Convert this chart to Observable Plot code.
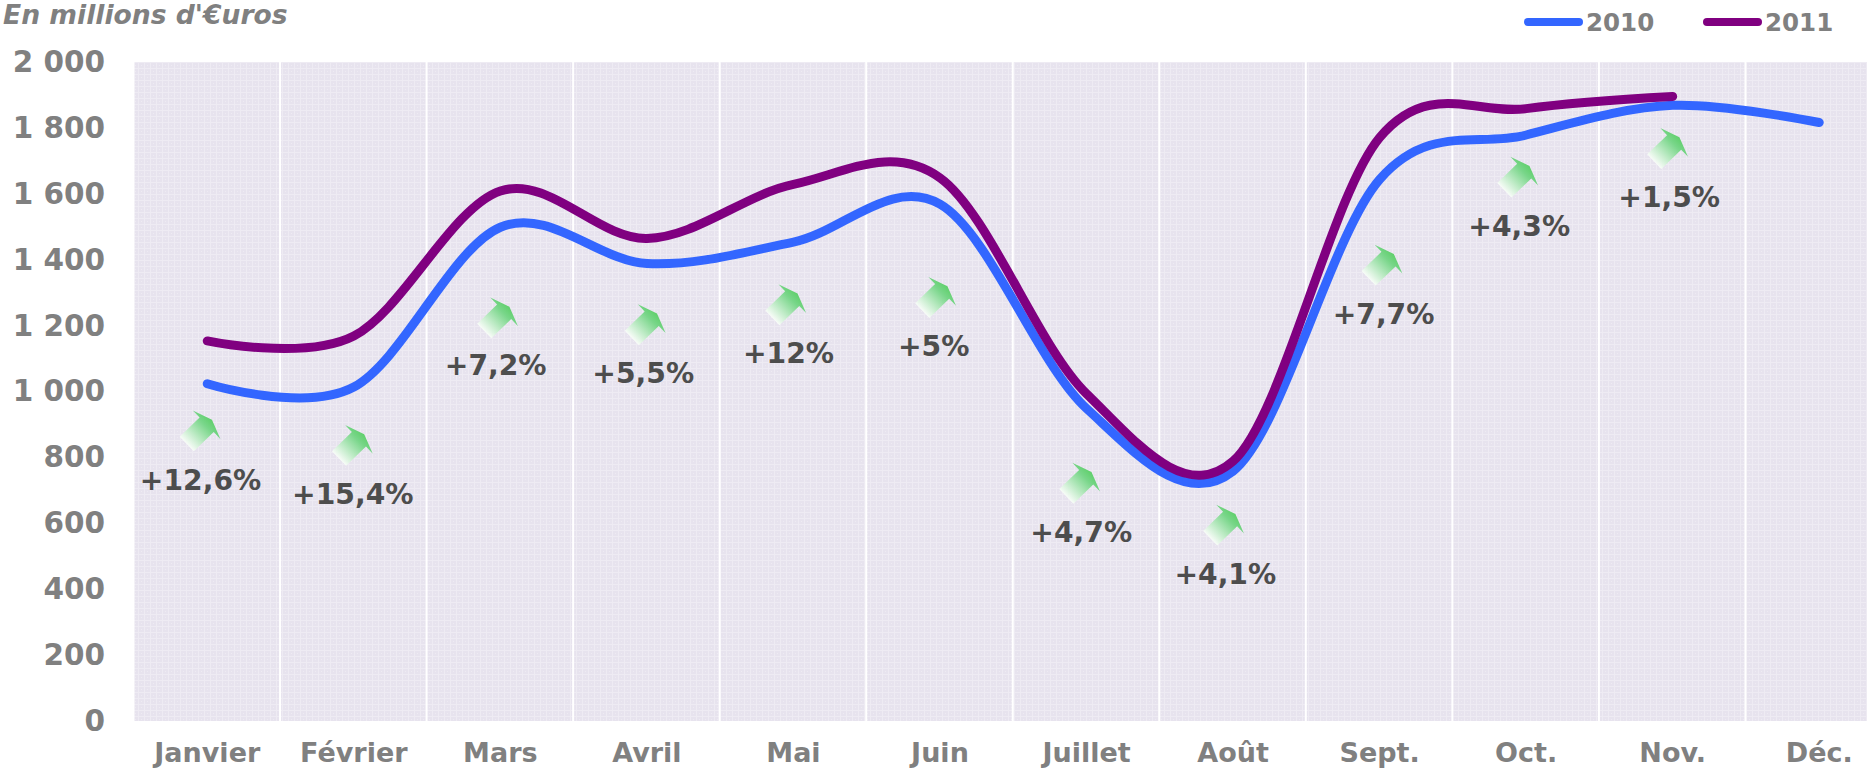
<!DOCTYPE html>
<html><head><meta charset="utf-8">
<script src="https://cdn.jsdelivr.net/npm/d3@7"></script>
<script src="https://cdn.jsdelivr.net/npm/@observablehq/plot@0.6"></script>
<style>
html,body{margin:0;padding:0;background:#fff;overflow:hidden;width:1867px;height:768px;font-family:"DejaVu Sans",sans-serif;font-weight:bold;color:#808080}
#head{position:relative;height:44px;width:1867px}
#head .t{position:absolute;left:3px;top:3px;font-size:26.6px;font-style:italic;line-height:24px;white-space:nowrap}
#head .k{position:absolute;top:22px;height:8px;width:59px;margin-top:-4px;border-radius:4px}
#head .l{position:absolute;top:7px;font-size:24.5px;line-height:32px}
</style></head><body>
<div id="head"></div>
<div id="chart"></div>
<script>
const months = ["Janvier","Février","Mars","Avril","Mai","Juin","Juillet","Août","Sept.","Oct.","Nov.","Déc."];
const values2010 = [1025,1015,1500,1390,1455,1570,950,760,1645,1780,1870,1818];
const values2011 = [1155,1170,1610,1466,1630,1650,995,790,1772,1860,1897];
const yTicks = [0,200,400,600,800,1000,1200,1400,1600,1800,2000];
const pctLabels = ["+12,6%","+15,4%","+7,2%","+5,5%","+12%","+5%","+4,7%","+4,1%","+7,7%","+4,3%","+1,5%"];
const labelX = [.454,1.493,2.468,3.475,4.466,5.457,6.464,7.447,8.527,9.453,10.476];
const labelY = [731,687,1078,1056,1114,1136,571,445,1233,1501,1588];
const arrowX = [.446,1.485,2.476,3.483,4.442,5.465,6.448,7.430,8.511,9.437,10.460];
const arrowY = [879,835,1222,1201,1262,1284,720,593,1382,1649,1736];
const seriesColors = {"2010":"#3366ff","2011":"#800080"};

const head = d3.select("#head");
head.append("div").attr("class","t").text("En millions d'€uros");
[["2010",1524,1586],["2011",1703,1765]].forEach(([n,a,b])=>{
  head.append("div").attr("class","k").style("left",a+"px").style("background",seriesColors[n]);
  head.append("div").attr("class","l").style("left",b+"px").text(n);
});

const bands = months.map((m,i)=>({a:i,b:i+1}));
const line2010 = values2010.map((v,i)=>({x:i+.5,y:v}));
const line2011 = values2011.map((v,i)=>({x:i+.5,y:v}));
const arrows = arrowX.map((x,i)=>({x,y:arrowY[i]}));
const labels = pctLabels.map((t,i)=>({t,x:labelX[i],y:labelY[i]}));

// Arrow outline, proportional to the vector's length: wide shallow head on a square shaft.
const arrowShape = {draw(c,l){
  const w=l*.29, hw=l*.57, tail=l*.5, notch=-l*.29, top=-l*.5;
  c.moveTo(-w,tail); c.lineTo(-w,notch); c.lineTo(-hw,notch); c.lineTo(0,top);
  c.lineTo(hw,notch); c.lineTo(w,notch); c.lineTo(w,tail); c.closePath();
}};

const fmt = d => d>=1000 ? Math.floor(d/1000)+" "+String(d%1000).padStart(3,"0") : String(d);

const plot = Plot.plot({
  width:1867, height:724,
  marginTop:18, marginBottom:47, marginLeft:133.5, marginRight:-25,
  style:{background:"transparent",overflow:"hidden",fontFamily:"'DejaVu Sans',sans-serif",fontWeight:"bold"},
  x:{type:"linear",domain:[0,12]},
  y:{domain:[0,2000]},
  marks:[
    Plot.rectY(bands,{x1:"a",x2:"b",y1:0,y2:2000,fill:"url(#lattice)",insetLeft:1,insetRight:1}),
    Plot.axisY({ticks:yTicks,tickSize:0,tickPadding:29,tickFormat:fmt,fontSize:29.5,fill:"#808080",label:null}),
    Plot.axisX({ticks:months.map((m,i)=>i+.5),tickSize:0,tickPadding:21,tickFormat:d=>months[d-.5],fontSize:27,fill:"#808080",label:null}),
    Plot.line(line2010,{x:"x",y:"y",stroke:seriesColors["2010"],strokeWidth:9,curve:"cardinal",tension:0,strokeLinecap:"round"}),
    Plot.line(line2011,{x:"x",y:"y",stroke:seriesColors["2011"],strokeWidth:9,curve:"cardinal",tension:0,strokeLinecap:"round"}),
    Plot.vector(arrows,{x:"x",y:"y",length:35,rotate:46,anchor:"start",shape:arrowShape,fill:"url(#arrowGrad)",stroke:"none"}),
    Plot.text(labels,{x:"x",y:"y",text:"t",fontSize:28.2,fill:"#4d4d4d",fontWeight:"bold"})
  ]
});

const ns="http://www.w3.org/2000/svg";
const defs=document.createElementNS(ns,"defs");
defs.innerHTML=`
<pattern id="lattice" width="6" height="6" patternUnits="userSpaceOnUse">
  <rect width="6" height="6" fill="#e7e3ee"/>
  <rect x="0" y="0" width="1" height="6" fill="#eeebf3"/>
  <rect x="0" y="0" width="6" height="1" fill="#eeebf3"/>
  <rect x="3" y="3" width="1" height="1" fill="#eeebf3"/>
</pattern>
<linearGradient id="arrowGrad" gradientUnits="objectBoundingBox" x1="0" y1="1" x2="0" y2="0">
  <stop offset="0" stop-color="#f8fcf8"/>
  <stop offset="0.75" stop-color="#79d68a"/>
  <stop offset="1" stop-color="#5fcf6b"/>
</linearGradient>`;
plot.insertBefore(defs,plot.firstChild);
document.getElementById("chart").appendChild(plot);
</script>
</body></html>
